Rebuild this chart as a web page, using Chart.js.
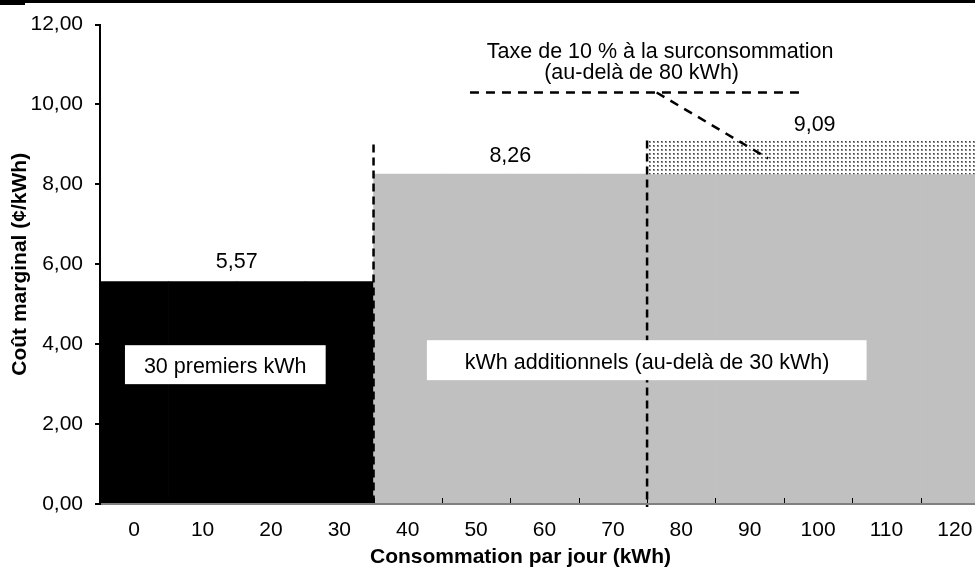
<!DOCTYPE html>
<html>
<head>
<meta charset="utf-8">
<script src="https://cdn.jsdelivr.net/npm/chart.js@4.4.0/dist/chart.umd.min.js"></script>
<style>
    html, body { margin: 0; padding: 0; background: #fff; overflow: hidden; }
    #wrap { width: 989px; height: 573px; position: relative; }
</style>
</head>
<body>
<div id="wrap"><canvas id="coutChart"></canvas></div>
<script>
// Données
const categories = ['0', '10', '20', '30', '40', '50', '60', '70', '80', '90', '100', '110', '120'];
const tarif = [5.57, 5.57, 5.57, 5.57, 8.26, 8.26, 8.26, 8.26, 8.26, 8.26, 8.26, 8.26, 8.26];
const tarifAvecTaxe = [null, null, null, null, null, null, null, null, 9.09, 9.09, 9.09, 9.09, 9.09];
const yTicks = [0, 2, 4, 6, 8, 10, 12];
const valeurLabels = ['5,57', '8,26', '9,09'];

const police = '"Liberation Sans", Arial, sans-serif';

// motif pointillé pour la taxe
function motifPoints() {
    const c = document.createElement('canvas');
    c.width = 4; c.height = 4;
    const g = c.getContext('2d');
    g.fillStyle = '#fff';
    g.fillRect(0, 0, 4, 4);
    g.fillStyle = '#8a8a8a';
    g.fillRect(1, 1, 2, 2);
    g.fillStyle = '#404040';
    g.fillRect(1, 1, 1, 1);
    return g.createPattern(c, 'repeat');
}

// annotations (textes, boîtes, pointillés)
const annotations = {
    id: 'annotations',
    beforeDraw(chart) {
        const ctx = chart.ctx;
        ctx.save();
        ctx.fillStyle = '#000';
        ctx.fillRect(0, 0, 25, 5);
        ctx.fillRect(25, 0, chart.width, 3);
        ctx.restore();
    },
    afterDatasetsDraw(chart) {
        const { ctx, scales: { x, y } } = chart;
        const px = v => x.getPixelForValue(v);
        const py = v => y.getPixelForValue(v);
        ctx.save();

        // petites graduations vers l'intérieur
        ctx.strokeStyle = '#000';
        ctx.lineWidth = 1;
        for (let i = 0; i < categories.length; i++) {
            const xx = Math.round(px(i + 0.5)) + 0.5;
            ctx.beginPath();
            ctx.moveTo(xx, y.bottom - 6);
            ctx.lineTo(xx, y.bottom);
            ctx.stroke();
        }

        // lignes verticales pointillées
        ctx.lineWidth = 2.5;
        ctx.setLineDash([8, 5]);
        [[3.5, 9.0], [7.5, 9.1]].forEach(([xi, top]) => {
            ctx.beginPath();
            ctx.moveTo(px(xi), py(top));
            ctx.lineTo(px(xi), py(0) + 3);
            ctx.stroke();
        });

        // ligne horizontale + flèche de la taxe
        ctx.setLineDash([9, 7]);
        ctx.beginPath();
        ctx.moveTo(px(4.91), py(10.3));
        ctx.lineTo(px(9.73), py(10.3));
        ctx.stroke();
        ctx.beginPath();
        ctx.moveTo(px(7.64), py(10.3));
        ctx.lineTo(px(9.27), py(8.65));
        ctx.stroke();
        ctx.setLineDash([]);

        // boîtes blanches
        ctx.fillStyle = '#fff';
        ctx.fillRect(px(-0.135), py(3.975), px(2.8) - px(-0.135), py(3.0) - py(3.975));
        ctx.fillRect(px(4.28), py(4.1), px(10.71) - px(4.28), py(3.1) - py(4.1));

        ctx.fillStyle = '#000';
        ctx.font = '21.5px ' + police;
        ctx.textAlign = 'center';
        ctx.textBaseline = 'middle';
        ctx.fillText('30 premiers kWh', px(1.33), py(3.42));
        ctx.fillText('kWh additionnels (au-delà de 30 kWh)', px(7.5), py(3.52));

        // valeurs au-dessus des paliers
        ctx.fillText(valeurLabels[0], px(1.5), py(tarif[0]) - 19);
        ctx.fillText(valeurLabels[1], px(5.5), py(tarif[4]) - 18);
        ctx.fillText(valeurLabels[2], px(9.95), py(tarifAvecTaxe[8]) - 16);

        ctx.fillText('Taxe de 10 % à la surconsommation', px(7.69), py(11.32));
        ctx.fillText('(au-delà de 80 kWh)', px(7.42), py(10.78));

        // titre de l'axe horizontal (décalé à gauche comme l'original)
        ctx.font = 'bold 21px ' + police;
        ctx.fillText('Consommation par jour (kWh)', (x.left + x.right) / 2 - 24, y.bottom + 53);

        ctx.restore();
    }
};

const ctx = document.getElementById('coutChart').getContext('2d');

const data = {
    labels: categories,
    datasets: [{
        label: 'Tarif',
        data: tarif,
        backgroundColor: c => c.dataIndex < 4 ? '#000' : '#c0c0c0', // 30 premiers kWh en noir
        borderWidth: 0,
        categoryPercentage: 1,
        barPercentage: 1,
        grouped: false,
        order: 2
    }, {
        label: 'Taxe',
        data: tarifAvecTaxe.map((v, i) => v == null ? null : [tarif[i], v]),
        backgroundColor: motifPoints(),
        borderWidth: 0,
        categoryPercentage: 1,
        barPercentage: 1,
        grouped: false,
        order: 1
    }]
};

const config = {
    type: 'bar',
    data: data,
    plugins: [annotations],
    options: {
        responsive: true,
        maintainAspectRatio: false,
        animation: false,
        layout: { padding: { top: 24, right: 0, left: 0, bottom: 0 } },
        plugins: {
            legend: { display: false },
            tooltip: { enabled: false }
        },
        scales: {
            x: {
                grid: { display: false },
                border: { display: true, color: '#808080', width: 2, z: 1 },
                ticks: {
                    color: '#000',
                    font: { family: police, size: 21 },
                    padding: 6,
                    maxRotation: 0
                },
                title: { display: false },
                afterFit: s => { s.height = 69; }
            },
            y: {
                min: 0,
                max: 12,
                afterBuildTicks: s => { s.ticks = yTicks.map(v => ({ value: v })); },
                grid: { drawOnChartArea: false, tickLength: 5, color: '#000', lineWidth: 2 },
                border: { display: true, color: '#000', width: 2, z: 1 },
                ticks: {
                    color: '#000',
                    font: { family: police, size: 21 },
                    padding: 12,
                    callback: v => v.toFixed(2).replace('.', ',')
                },
                title: {
                    display: true,
                    text: 'Coût marginal (¢/kWh)',
                    color: '#000',
                    font: { family: police, size: 21, weight: 'bold' },
                    padding: { top: 8, bottom: 0 }
                },
                afterFit: s => { s.width = 100; }
            }
        }
    }
};

const coutChart = new Chart(ctx, config);
</script>
</body>
</html>
